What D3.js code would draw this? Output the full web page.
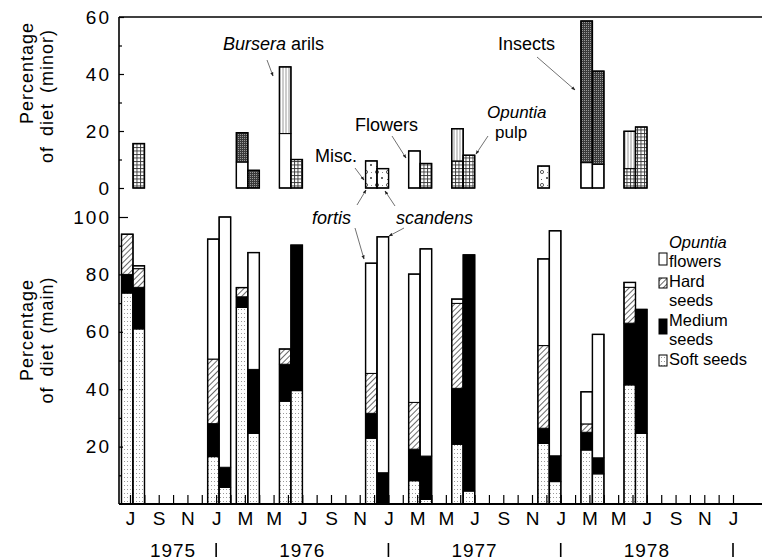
<!DOCTYPE html>
<html>
<head>
<meta charset="utf-8">
<script src="https://cdn.jsdelivr.net/npm/d3@7"></script>
<style>
  body { margin: 0; background: #fff; }
  svg { display: block; font-family: "Liberation Sans", Arial, sans-serif; }
</style>
</head>
<body>
<svg id="chart"></svg>
<script>
// sample months (year-month), one pair of bars (fortis, scandens) per sample
const samples = ["1975-07", "1976-01", "1976-03", "1976-06", "1976-12",
                 "1977-03", "1977-06", "1977-12", "1978-03", "1978-06"];

// main diet, percent (stacked bottom -> top: soft, medium, hard, flowers)
const fortisSoft      = [73.5, 16.5, 68.5, 35.8, 22.9,  8.1, 20.8, 21.1, 18.8, 41.5];
const fortisMedium    = [ 6.5, 11.5,  3.7, 12.9,  8.7, 11.0, 19.5,  5.3,  6.2, 21.5];
const fortisHard      = [14.0, 22.5,  3.2,  5.3, 13.9, 16.3, 29.6, 28.8,  2.9, 12.5];
const fortisFlowers   = [ 0.0, 41.8,  0.0,  0.0, 38.4, 44.7,  1.5, 30.2, 11.2,  1.7];
const scandensSoft    = [61.0,  5.8, 24.6, 39.5,  0.0,  1.6,  4.5,  7.8, 10.5, 24.6];
const scandensMedium  = [14.5,  7.0, 22.3, 50.7, 10.9, 15.1, 82.3,  9.0,  5.6, 43.2];
const scandensHard    = [ 6.5,  0.0,  0.0,  0.0,  0.0,  0.0,  0.0,  0.0,  0.0,  0.0];
const scandensFlowers = [ 1.0, 87.2, 40.7,  0.0, 82.2, 72.2,  0.0, 78.4, 43.0,  0.0];

// minor diet, percent (stacked bottom -> top: flowers, pulp, misc, bursera, insects)
const minorFortisFlowers    = [0, 0, 9.1, 19.1, 0,   13,  0,    0,   8.9, 0];
const minorFortisPulp       = [0, 0, 0,    0,   0,    0,  9.5,  0,   0,   6.8];
const minorFortisMisc       = [0, 0, 0,    0,   9.5,  0,  0,    7.7, 0,   0];
const minorFortisBursera    = [0, 0, 0,   23.4, 0,    0, 11.3,  0,   0,  13.1];
const minorFortisInsects    = [0, 0, 10.3, 0,   0,    0,  0,    0,  49.7, 0];
const minorScandensFlowers  = [0,    0, 0,   0,  0,   0,   0,    0, 8.3,  0];
const minorScandensPulp     = [15.6, 0, 0,  10,  0,   8.6, 11.5, 0, 0,   21.4];
const minorScandensMisc     = [0,    0, 0,   0,  6.8, 0,   0,    0, 0,    0];
const minorScandensBursera  = [0,    0, 0,   0,  0,   0,   0,    0, 0,    0];
const minorScandensInsects  = [0,    0, 6.2, 0,  0,   0,   0,    0, 32.7, 0];

const monthLetters = ["J","S","N","J","M","M","J","S","N","J","M","M",
                      "J","S","N","J","M","M","J","S","N","J"];
const yearLabels = ["1975", "1976", "1977", "1978"];
const yearCentres = ["1975-10", "1976-07", "1977-07", "1978-07"];
const yearBreaks = ["1976-01", "1977-01", "1978-01", "1979-01"];

const mainKeys = ["soft", "medium", "hard", "flowers"];
const minorKeys = ["flowers", "pulp", "misc", "bursera", "insects"];

const W = 762, H = 560;
const svg = d3.select("#chart").attr("width", W).attr("height", H);

const monthIndex = s => {
  const [y, m] = s.split("-").map(Number);
  return (y - 1975) * 12 + (m - 7);
};

const x = d3.scaleLinear().domain([0, 42]).range([130, 733]);
const yMinor = d3.scaleLinear().domain([0, 60]).range([188, 17]);
const yMain = d3.scaleLinear().domain([0, 100]).range([504, 217]);
const barW = 11.5;
const pairShift = 3;

// ---- patterns
const defs = svg.append("defs");
function pat(id, w, h, bg) {
  const p = defs.append("pattern").attr("id", id).attr("patternUnits", "userSpaceOnUse")
    .attr("width", w).attr("height", h);
  p.append("rect").attr("width", w).attr("height", h).attr("fill", bg);
  return p;
}
let p = pat("soft", 3, 4, "#fff");
p.append("rect").attr("x", 1).attr("y", 1).attr("width", 1).attr("height", 1).attr("fill", "#9a9a9a");
p = pat("hard", 4, 4, "#fff").attr("patternTransform", "rotate(45)");
p.append("line").attr("x1", 0).attr("y1", 0).attr("x2", 0).attr("y2", 4)
  .attr("stroke", "#444").attr("stroke-width", 1.6);
p = pat("insects", 2, 2, "#3a3a3a");
p.append("rect").attr("width", 1).attr("height", 1).attr("fill", "#9a9a9a");
p = pat("bursera", 3, 3, "#fff");
p.append("line").attr("x1", 1).attr("y1", 0).attr("x2", 1).attr("y2", 3)
  .attr("stroke", "#999").attr("stroke-width", 1);
p = pat("pulp", 3.5, 3.5, "#fff");
p.append("line").attr("x1", 0.5).attr("y1", 0).attr("x2", 0.5).attr("y2", 3.5).attr("stroke", "#333").attr("stroke-width", 0.9);
p.append("line").attr("x1", 0).attr("y1", 0.5).attr("x2", 3.5).attr("y2", 0.5).attr("stroke", "#333").attr("stroke-width", 0.9);
p = pat("misc", 11, 13, "#fff");
p.append("circle").attr("cx", 3).attr("cy", 3).attr("r", 1.6).attr("fill", "none").attr("stroke", "#333").attr("stroke-width", 0.8);
p.append("circle").attr("cx", 8).attr("cy", 9).attr("r", 1).attr("fill", "#333");
p.append("rect").attr("x", 2).attr("y", 10).attr("width", 1).attr("height", 1).attr("fill", "#666");
p.append("rect").attr("x", 8).attr("y", 3).attr("width", 1).attr("height", 1).attr("fill", "#888");

const fills = {
  soft: "url(#soft)", medium: "#000", hard: "url(#hard)", flowers: "#fff",
  pulp: "url(#pulp)", misc: "url(#misc)", bursera: "url(#bursera)", insects: "url(#insects)"
};

defs.append("marker").attr("id", "arrow").attr("viewBox", "0 0 8 8")
  .attr("refX", 7).attr("refY", 4).attr("markerWidth", 6).attr("markerHeight", 6)
  .attr("orient", "auto")
  .append("path").attr("d", "M0,1 L8,4 L0,7 Z").attr("fill", "#222");

// ---- tables
const table = cols => samples.map((s, i) => {
  const row = { month: monthIndex(s) };
  Object.keys(cols).forEach(k => row[k] = cols[k][i]);
  return row;
});
const mainFortis = table({ soft: fortisSoft, medium: fortisMedium, hard: fortisHard, flowers: fortisFlowers });
const mainScandens = table({ soft: scandensSoft, medium: scandensMedium, hard: scandensHard, flowers: scandensFlowers });
const minorFortis = table({ flowers: minorFortisFlowers, pulp: minorFortisPulp, misc: minorFortisMisc,
                            bursera: minorFortisBursera, insects: minorFortisInsects });
const minorScandens = table({ flowers: minorScandensFlowers, pulp: minorScandensPulp, misc: minorScandensMisc,
                              bursera: minorScandensBursera, insects: minorScandensInsects });

function drawBars(rows, keys, y, side) {
  const series = d3.stack().keys(keys)(rows);
  const g = svg.append("g");
  const bx = d => x(d.data.month) + pairShift + (side === "fortis" ? -barW : 0);
  series.forEach(s => {
    g.selectAll(null).data(s.filter(d => d[1] - d[0] > 0)).enter().append("rect")
      .attr("x", bx)
      .attr("y", d => y(d[1]))
      .attr("width", barW)
      .attr("height", d => y(d[0]) - y(d[1]))
      .attr("fill", fills[s.key])
      .attr("stroke", "#000").attr("stroke-width", 1);
  });
  // outline of whole bar
  const top = series[series.length - 1];
  g.selectAll(null).data(top.filter(d => d[1] > 0)).enter().append("rect")
    .attr("x", bx).attr("y", d => y(d[1]))
    .attr("width", barW).attr("height", d => y(0) - y(d[1]))
    .attr("fill", "none").attr("stroke", "#000").attr("stroke-width", 1.4);
}

drawBars(mainFortis, mainKeys, yMain, "fortis");
drawBars(mainScandens, mainKeys, yMain, "scandens");
drawBars(minorFortis, minorKeys, yMinor, "fortis");
drawBars(minorScandens, minorKeys, yMinor, "scandens");

// ---- axes
const axisX0 = 119;
svg.append("line").attr("x1", axisX0).attr("x2", axisX0).attr("y1", yMinor(60)).attr("y2", yMain(0))
  .attr("stroke", "#000").attr("stroke-width", 1.6);
svg.append("line").attr("x1", axisX0).attr("x2", W).attr("y1", yMinor(60)).attr("y2", yMinor(60))
  .attr("stroke", "#000").attr("stroke-width", 1.6);
svg.append("line").attr("x1", axisX0).attr("x2", W).attr("y1", yMain(0)).attr("y2", yMain(0))
  .attr("stroke", "#000").attr("stroke-width", 1.8);

function styleAxis(g) {
  g.select(".domain").remove();
  g.selectAll(".tick line").attr("stroke", "#000").attr("stroke-width", 1.2);
  g.selectAll(".tick text").attr("font-size", 19).attr("letter-spacing", 2).attr("fill", "#000")
    .attr("font-family", "'Liberation Sans', Arial, sans-serif");
}

const gMinor = svg.append("g").attr("transform", `translate(${axisX0},0)`)
  .call(d3.axisLeft(yMinor).tickValues(d3.range(0, 61, 10)).tickSize(-3).tickPadding(8)
    .tickFormat(d => d % 20 === 0 ? d : ""));
styleAxis(gMinor);
gMinor.selectAll(".tick line").attr("x2", d => d % 20 === 0 ? 5 : 3);

const gMain = svg.append("g").attr("transform", `translate(${axisX0},0)`)
  .call(d3.axisLeft(yMain).tickValues(d3.range(10, 101, 10)).tickSize(-3).tickPadding(8)
    .tickFormat(d => d % 20 === 0 ? d : ""));
styleAxis(gMain);
gMain.selectAll(".tick line").attr("x2", d => d === 100 ? 9 : (d % 20 === 0 ? 4 : 3));

const gX = svg.append("g").attr("transform", `translate(0,${yMain(0)})`)
  .call(d3.axisBottom(x).tickValues(d3.range(0, 43)).tickSize(-9).tickPadding(8)
    .tickFormat(d => d % 2 === 0 ? monthLetters[d / 2] : ""));
styleAxis(gX);
gX.selectAll(".tick text").attr("letter-spacing", 0);

// years
svg.append("g").selectAll("text").data(yearLabels).enter().append("text")
  .attr("x", (d, i) => x(monthIndex(yearCentres[i])))
  .attr("y", 557).attr("text-anchor", "middle").attr("font-size", 19)
  .attr("letter-spacing", 1).text(d => d);
svg.append("g").selectAll("line").data(yearBreaks).enter().append("line")
  .attr("x1", d => x(monthIndex(d))).attr("x2", d => x(monthIndex(d)))
  .attr("y1", 543).attr("y2", 557).attr("stroke", "#000").attr("stroke-width", 1.6);

// y titles
function yTitle(lines, cx, cys) {
  lines.forEach((t, i) => {
    svg.append("text").attr("transform", `translate(${cx[i]},${cys[i]}) rotate(-90)`)
      .attr("text-anchor", "middle").attr("font-size", 18).attr("letter-spacing", 1)
      .attr("word-spacing", 4).text(t);
  });
}
yTitle(["Percentage", "of diet (minor)"], [33, 53], [73, 96]);
yTitle(["Percentage", "of diet (main)"], [33, 53], [330, 340]);

// ---- legend
const legendItems = [
  { key: "flowers", lines: [["Opuntia", true], ["flowers", false]], box: [253, 12], base: 248 },
  { key: "hard", lines: [["Hard", false], ["seeds", false]], box: [278, 10], base: 287 },
  { key: "medium", lines: [["Medium", false], ["seeds", false]], box: [319, 15], base: 326 },
  { key: "soft", lines: [["Soft seeds", false]], box: [355, 11], base: 365 }
];
const lg = svg.append("g");
legendItems.forEach(it => {
  lg.append("rect").attr("x", 659).attr("y", it.box[0]).attr("width", 8).attr("height", it.box[1])
    .attr("fill", fills[it.key]).attr("stroke", "#000").attr("stroke-width", 1);
  it.lines.forEach((ln, j) => {
    lg.append("text").attr("x", 669).attr("y", it.base + j * 19)
      .attr("font-size", 16.5).attr("font-style", ln[1] ? "italic" : "normal").text(ln[0]);
  });
});

// ---- annotations
function label(xp, yp, parts, size) {
  const t = svg.append("text").attr("x", xp).attr("y", yp).attr("font-size", size || 18);
  parts.forEach(pt => t.append("tspan").attr("font-style", pt[1] ? "italic" : "normal").text(pt[0]));
}
function leader(x1, y1, x2, y2) {
  svg.append("line").attr("x1", x1).attr("y1", y1).attr("x2", x2).attr("y2", y2)
    .attr("stroke", "#333").attr("stroke-width", 0.7).attr("marker-end", "url(#arrow)");
}
label(223, 50, [["Bursera", true], [" arils", false]]);
leader(267, 60, 273, 76);
label(315, 162, [["Misc.", false]]);
leader(355, 168, 364, 180);
label(355, 131, [["Flowers", false]]);
leader(392, 136, 406, 158);
label(487, 118, [["Opuntia", true]], 17);
label(495, 138, [["pulp", false]], 17);
leader(488, 136, 476, 154);
label(498, 50, [["Insects", false]]);
leader(537, 57, 575, 90);
label(312, 224, [["fortis", true]]);
label(396, 224, [["scandens", true]]);
leader(355, 228, 364, 259);
leader(404, 228, 389, 236);
leader(357, 205, 366, 190);
leader(395, 206, 385, 191);
</script>
</body>
</html>
